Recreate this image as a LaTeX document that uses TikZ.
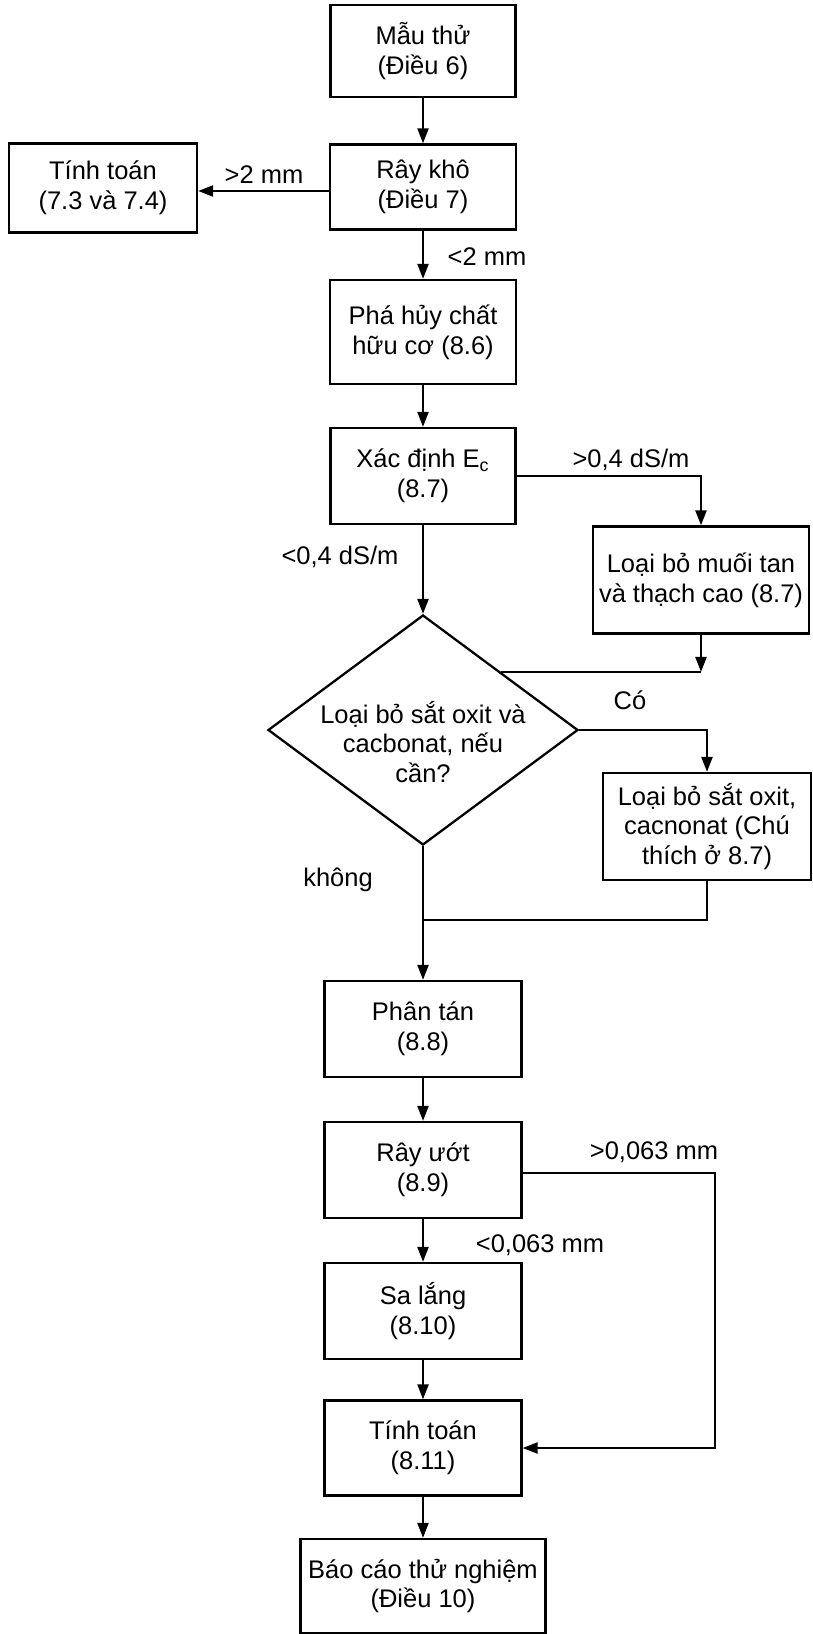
\documentclass[tikz,border=0pt]{standalone}
\usepackage{fontspec}
\setmainfont{Liberation Sans}
\usetikzlibrary{shapes.geometric,arrows.meta}

\begin{document}
\begin{tikzpicture}[
		line width=1.3pt,
		>={Triangle[length=0.3cm,width=0.22cm]},
		every node/.style={font=\fontsize{14.5pt}{17pt}\selectfont, align=center},
		stepbox/.style={draw, rectangle, inner sep=0pt},
		decision/.style={draw, diamond, inner sep=0pt, minimum width=6.2cm, minimum height=4.6cm},
		lbl/.style={inner sep=1pt}
	]
			%\draw[help lines] (0, -33) grid (17, 0);
			\useasboundingbox (0,0) rectangle (16.24,-32.68);

			\node[stepbox, minimum width=3.70cm, minimum height=1.84cm] (sample)    at (8.46, -1.02) {Mẫu thử\\(Điều 6)};
			\node[stepbox, minimum width=3.72cm, minimum height=1.70cm] (drysieve)  at (8.46, -3.74) {Rây khô\\(Điều 7)};
			\node[stepbox, minimum width=3.76cm, minimum height=1.78cm] (calcdry)   at (2.06, -3.76) {Tính toán\\(7.3 và 7.4)};
			\node[stepbox, minimum width=3.72cm, minimum height=2.08cm] (organic)   at (8.46, -6.64) {Phá hủy chất\\hữu cơ (8.6)};
			\node[stepbox, minimum width=3.70cm, minimum height=1.92cm] (ecmeasure) at (8.46, -9.52) {Xác định E\textsubscript{c}\\(8.7)};
			\node[stepbox, minimum width=4.32cm, minimum height=2.14cm] (salts)     at (14.02, -11.60) {Loại bỏ muối tan\\và thạch cao (8.7)};

			\node[decision] (check) at (8.46, -14.60) {};
			\node (checktext) at (8.46, -14.84) {Loại bỏ sắt oxit và\\cacbonat, nếu\\cần?};

			\node[stepbox, minimum width=4.16cm, minimum height=2.14cm] (iron)      at (14.14, -16.53) {Loại bỏ sắt oxit,\\cacnonat (Chú\\thích ở 8.7)};
			\node[stepbox, minimum width=3.94cm, minimum height=1.92cm] (disperse)  at (8.46, -20.58) {Phân tán\\(8.8)};
			\node[stepbox, minimum width=3.94cm, minimum height=1.92cm] (wetsieve)  at (8.46, -23.40) {Rây ướt\\(8.9)};
			\node[stepbox, minimum width=3.94cm, minimum height=1.92cm] (settle)    at (8.46, -26.22) {Sa lắng\\(8.10)};
			\node[stepbox, minimum width=3.94cm, minimum height=1.90cm] (calcwet)   at (8.46, -28.96) {Tính toán\\(8.11)};
			\node[stepbox, minimum width=4.90cm, minimum height=1.88cm] (report)    at (8.46, -31.72) {Báo cáo thử nghiệm\\(Điều 10)};

			\coordinate (saltsjoin) at (salts.south |- check.north east);
			\coordinate (ironjoin)  at (8.46, -18.40);
			\coordinate (bypass)    at (14.30, -23.46);

			\draw[->] (sample) -- (drysieve);
			\draw[->] (drysieve.west |- 0,-3.82) -- (calcdry.east |- 0,-3.82);
			\draw[->] (drysieve) -- (organic);
			\draw[->] (organic) -- (ecmeasure);
			\draw[->] (ecmeasure.east) -| (salts.north);
			\draw[->] (ecmeasure) -- (check.north);
			\draw[->] (salts.south) -- (saltsjoin);
			\draw (saltsjoin) -- (check.north east);
			\draw[->] (check.east) -| (iron.north);
			\draw (iron.south) |- (ironjoin);
			\draw[->] (check.south) -- (disperse.north);
			\draw[->] (disperse) -- (wetsieve);
			\draw[->] (wetsieve) -- (settle);
			\draw[->] (settle) -- (calcwet);
			\draw[->] (calcwet) -- (report);
			\draw[->] (wetsieve.east |- bypass) -- (bypass) |- (calcwet.east);

			\node[lbl] (gt2)   at (5.28, -3.50)  {>2 mm};
			\node[lbl] (lt2)   at (9.74, -5.14)  {<2 mm};
			\node[lbl] (gt04)  at (12.62, -9.20) {>0,4 dS/m};
			\node[lbl] (lt04)  at (6.80, -11.14) {<0,4 dS/m};
			\node[lbl] (yes)   at (12.60, -14.00) {Có};
			\node[lbl] (no)    at (6.76, -17.60) {không};
			\node[lbl] (gt063) at (13.08, -23.04) {>0,063 mm};
			\node[lbl] (lt063) at (10.80, -24.90) {<0,063 mm};
		\end{tikzpicture}
\end{document}
